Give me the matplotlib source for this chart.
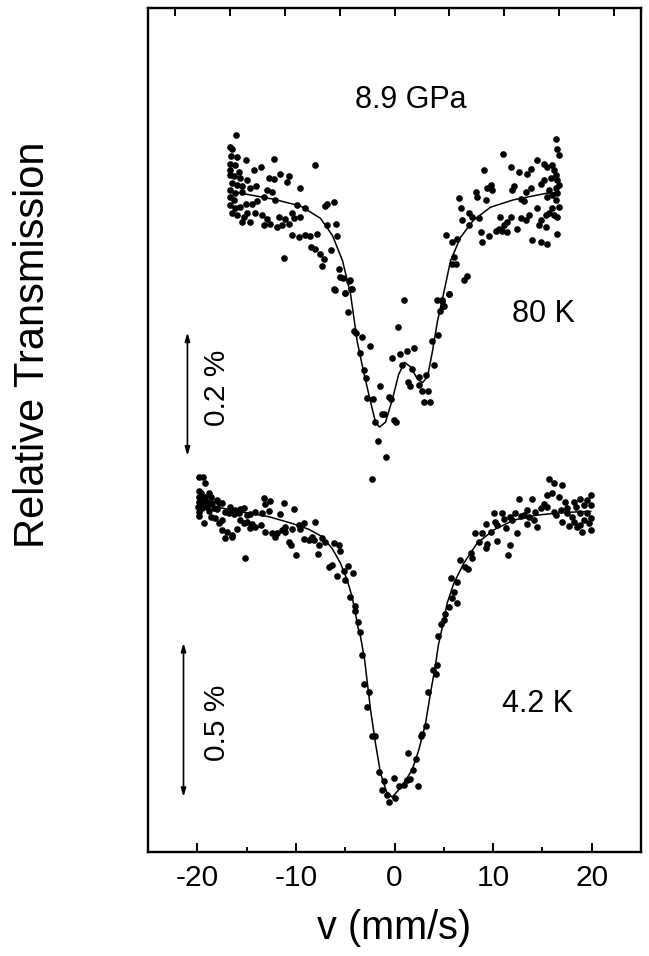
import numpy as np
import matplotlib
matplotlib.use("Agg")
import matplotlib.pyplot as plt

plt.rcParams['font.family'] = ['Liberation Sans', 'DejaVu Sans']
plt.rcParams['axes.unicode_minus'] = False

# velocity (mm/s) and transmission change (%)
# 80 K spectrum
pts80 = [
    (-16.03, 0.089), (-16.64, 0.069), (-16.47, 0.066), (-16.57, 0.055), (-15.96, 0.053),
    (-15.11, 0.049), (-12.24, 0.050), (-8.08, 0.041), (-16.64, 0.042), (-16.13, 0.041),
    (-16.64, 0.033), (-15.79, 0.030), (-14.27, 0.033), (-13.59, 0.037), (-16.70, 0.025),
    (-16.30, 0.022), (-15.62, 0.019), (-14.95, 0.016), (-12.75, 0.020), (-12.24, 0.018),
    (-11.57, 0.026), (-10.72, 0.022), (-10.89, 0.013), (-16.47, 0.011), (-15.96, 0.008),
    (-15.45, 0.006), (-14.61, 0.003), (-14.00, 0.006), (-12.92, 0.000), (-12.41, -0.003),
    (-9.54, 0.004), (-16.64, 0.000), (-16.13, -0.005), (-15.45, -0.003), (-16.70, -0.011),
    (-16.30, -0.016), (-15.11, -0.022), (-14.44, -0.022), (-13.93, -0.018), (-13.26, -0.011),
    (-12.07, -0.016), (-9.87, -0.025), (-9.03, -0.029), (-6.83, -0.022), (-6.16, -0.020),
    (-16.64, -0.025), (-16.13, -0.029), (-15.62, -0.027), (-16.47, -0.037), (-15.96, -0.040),
    (-15.28, -0.044), (-14.95, -0.038), (-14.10, -0.037), (-13.42, -0.041), (-12.92, -0.047),
    (-11.73, -0.044), (-11.06, -0.047), (-10.38, -0.038), (-10.21, -0.046), (-9.54, -0.044),
    (-15.45, -0.052), (-14.61, -0.052), (-13.26, -0.057), (-12.58, -0.055), (-11.90, -0.060),
    (-11.40, -0.057), (-10.72, -0.055), (-6.83, -0.057), (-5.89, -0.056), (-10.38, -0.073),
    (-9.71, -0.076), (-9.03, -0.073), (-8.52, -0.074), (-7.85, -0.071), (-8.45, -0.093),
    (-8.02, -0.096), (-7.51, -0.104), (-7.17, -0.112), (-6.49, -0.097), (-5.82, -0.075),
    (-7.34, -0.123), (-11.23, -0.111), (-6.09, -0.161), (-5.65, -0.128), (-5.48, -0.142),
    (-5.27, -0.143), (-4.56, -0.146), (-4.97, -0.167), (-4.26, -0.161), (-7.00, -0.026),
    (-6.08, -0.162), (-4.97, -0.168), (-4.46, -0.161), (-4.63, -0.148), (-4.73, -0.198),
    (-4.12, -0.229), (-3.95, -0.232), (-3.28, -0.238), (-2.50, -0.254), (-3.45, -0.264),
    (-3.11, -0.292), (-2.94, -0.306), (-2.77, -0.338), (-2.16, -0.339), (-1.93, -0.377),
    (-1.25, -0.363), (-1.08, -0.364), (-1.69, -0.407), (-0.91, -0.434), (-2.33, -0.470),
    (-1.49, -0.318), (-0.57, -0.336), (-0.40, -0.339), (-0.07, -0.374), (0.20, -0.377),
    (-0.24, -0.273), (0.54, -0.267), (1.22, -0.261), (1.96, -0.256), (0.34, -0.222),
    (0.95, -0.178), (0.78, -0.285), (1.79, -0.290), (1.35, -0.311), (1.62, -0.318),
    (2.47, -0.303), (3.15, -0.300), (2.47, -0.317), (2.81, -0.327), (3.38, -0.327),
    (2.98, -0.344), (3.58, -0.345), (3.99, -0.285), (3.82, -0.246), (4.40, -0.235),
    (4.60, -0.197), (4.33, -0.178), (5.00, -0.189), (5.51, -0.169), (4.84, -0.180),
    (16.43, 0.082), (16.50, 0.067), (16.67, 0.057), (11.03, 0.059), (9.07, 0.033),
    (11.77, 0.037), (12.61, 0.030), (13.46, 0.026), (13.87, 0.034), (14.47, 0.048),
    (15.15, 0.042), (15.49, 0.038), (16.00, 0.041), (16.16, 0.033), (16.33, 0.025),
    (16.50, 0.016), (15.83, 0.019), (15.15, 0.016), (14.81, 0.009), (16.67, 0.008),
    (16.33, 0.003), (15.66, 0.000), (16.50, -0.005), (16.00, -0.008), (15.49, -0.011),
    (16.33, -0.016), (16.67, -0.027), (16.00, -0.030), (15.66, -0.038), (16.16, -0.041),
    (16.50, -0.044), (15.32, -0.041), (14.81, -0.049), (14.47, -0.030), (14.64, -0.057),
    (15.32, -0.060), (16.50, -0.071), (13.97, -0.082), (14.81, -0.085), (15.49, -0.087),
    (13.63, -0.041), (12.78, -0.046), (11.77, -0.044), (11.43, -0.052), (10.75, -0.044),
    (11.09, -0.057), (10.59, -0.063), (10.25, -0.066), (10.92, -0.067), (11.43, -0.068),
    (12.45, -0.063), (13.29, -0.049), (13.12, -0.018), (12.78, -0.014), (12.11, 0.006),
    (11.94, 0.000), (13.80, 0.003), (13.29, -0.003), (9.74, 0.008), (9.40, 0.003),
    (9.91, 0.000), (8.22, -0.003), (8.39, -0.011), (9.23, -0.016), (6.53, -0.013),
    (6.70, -0.030), (7.54, -0.037), (7.88, -0.044), (6.87, -0.049), (7.54, -0.057),
    (8.56, -0.046), (8.73, -0.068), (9.57, -0.074), (8.90, -0.085), (5.18, -0.073),
    (6.36, -0.079), (5.85, -0.085), (6.02, -0.109), (5.85, -0.120), (6.19, -0.120),
    (7.37, -0.139), (7.04, -0.146), (5.52, -0.169), (4.84, -0.178), (4.94, -0.189),
]
fit80 = [
    (-16.33, -0.003), (-12.27, -0.015), (-9.53, -0.026), (-7.51, -0.046), (-6.29, -0.074),
    (-5.27, -0.115), (-4.46, -0.169), (-3.78, -0.246), (-3.14, -0.295), (-2.43, -0.344),
    (-1.93, -0.377), (-1.52, -0.385), (-0.91, -0.377), (-0.20, -0.339), (0.41, -0.300),
    (1.01, -0.280), (1.62, -0.287), (2.33, -0.307), (2.84, -0.313), (3.35, -0.303),
    (3.85, -0.262), (4.36, -0.213), (4.97, -0.169), (5.68, -0.115), (6.69, -0.077),
    (8.01, -0.049), (9.74, -0.028), (12.07, -0.016), (15.52, -0.005), (16.40, -0.004),
]

# 4.2 K spectrum
pts42 = [
    (-19.85, 0.090), (-19.44, 0.090), (-19.17, 0.070), (-19.85, 0.047), (-19.58, 0.038),
    (-18.83, 0.040), (-19.85, 0.027), (-19.51, 0.022), (-19.17, 0.027), (-18.66, 0.027),
    (-19.85, 0.011), (-19.34, 0.005), (-19.00, 0.011), (-18.50, 0.008), (-17.99, 0.016),
    (-17.82, 0.005), (-17.48, 0.005), (-19.92, -0.005), (-19.51, -0.011), (-19.00, -0.008),
    (-18.33, -0.011), (-17.99, -0.014), (-19.85, -0.022), (-18.83, -0.018), (-17.14, -0.022),
    (-16.64, -0.005), (-16.47, -0.022), (-16.13, -0.016), (-15.62, -0.014), (-15.28, -0.011),
    (-16.81, -0.027), (-16.30, -0.029), (-15.79, -0.027), (-14.95, -0.033), (-14.61, -0.029),
    (-19.85, -0.036), (-18.66, -0.038), (-18.16, -0.043), (-19.34, -0.060), (-17.82, -0.060),
    (-17.48, -0.049), (-15.62, -0.049), (-15.28, -0.060), (-14.95, -0.054), (-14.44, -0.062),
    (-14.10, -0.070), (-13.59, -0.065), (-14.61, -0.076), (-17.48, -0.081), (-16.97, -0.087),
    (-16.47, -0.097), (-15.96, -0.079), (-17.14, -0.108), (-16.47, -0.103), (-13.26, 0.022),
    (-12.58, 0.014), (-13.09, 0.003), (-11.23, 0.005), (-12.75, -0.018), (-14.10, -0.022),
    (-13.42, -0.027), (-11.57, -0.029), (-10.21, -0.014), (-13.09, -0.087), (-12.41, -0.090),
    (-11.90, -0.092), (-12.07, -0.103), (-11.40, -0.081), (-11.06, -0.087), (-10.38, -0.079),
    (-11.06, -0.070), (-9.71, -0.065), (-9.20, -0.060), (-8.02, -0.054), (-9.54, -0.079),
    (-9.20, -0.111), (-8.69, -0.113), (-8.18, -0.113), (-8.35, -0.103), (-7.34, -0.108),
    (-7.00, -0.119), (-6.16, -0.122), (-5.65, -0.130), (-5.48, -0.151), (-7.68, -0.130),
    (-10.72, -0.119), (-10.45, -0.130), (-9.94, -0.162), (-7.75, -0.159), (-15.18, -0.173),
    (-6.66, -0.200), (-6.33, -0.195), (-4.70, -0.197), (-5.82, -0.231), (-5.14, -0.216),
    (-4.23, -0.222), (-4.97, -0.244), (-4.47, -0.298), (-3.96, -0.328), (-3.69, -0.379),
    (-4.05, -0.345), (-3.52, -0.414), (-3.28, -0.487), (4.43, -0.427),
    (-3.11, -0.581), (-2.60, -0.606), (-2.77, -0.657), (-2.26, -0.750), (-1.93, -0.750),
    (-1.59, -0.866), (-1.08, -0.898), (-1.25, -0.927), (-0.74, -0.941), (-0.57, -0.963),
    (-0.07, -0.887), (0.10, -0.952), (0.44, -0.912), (0.95, -0.909), (1.29, -0.893),
    (1.56, -0.890), (1.89, -0.860), (2.13, -0.826), (2.40, -0.912), (1.35, -0.804),
    (2.64, -0.750), (2.81, -0.743), (3.15, -0.719), (3.38, -0.606), (3.92, -0.535),
    (4.16, -0.548), (4.33, -0.519),
    (15.65, 0.083), (16.16, 0.072), (17.00, 0.065), (12.61, 0.018), (13.96, 0.018),
    (15.48, 0.032), (15.99, 0.040), (16.67, 0.025), (17.34, 0.011), (18.19, 0.011),
    (18.86, 0.018), (19.88, 0.032), (19.54, 0.016), (19.20, 0.000), (19.88, 0.000),
    (18.36, -0.005), (17.51, -0.011), (16.84, -0.016), (16.16, -0.022), (15.48, -0.005),
    (14.81, -0.011), (15.15, 0.003), (14.30, -0.022), (13.45, -0.016), (13.12, -0.033),
    (12.27, -0.025), (11.76, -0.038), (10.92, -0.027), (10.07, -0.025), (10.24, -0.054),
    (11.09, -0.047), (11.93, -0.049), (12.78, -0.036), (13.62, -0.038), (14.13, -0.049),
    (9.33, -0.062), (10.41, -0.065), (11.26, -0.076), (12.44, -0.092), (13.45, -0.062),
    (14.47, -0.070), (17.51, -0.027), (18.02, -0.038), (18.86, -0.027), (19.54, -0.027),
    (19.88, -0.043), (19.20, -0.049), (19.71, -0.060), (18.86, -0.065), (18.53, -0.070),
    (19.88, -0.081), (19.03, -0.087), (17.68, -0.068), (17.00, -0.054), (16.33, -0.033),
    (18.19, -0.054), (8.21, -0.090), (8.89, -0.092), (9.74, -0.087), (8.55, -0.119),
    (9.40, -0.127), (10.41, -0.116), (9.23, -0.141), (11.70, -0.130), (11.49, -0.162),
    (7.71, -0.157), (6.69, -0.179), (7.20, -0.200), (7.44, -0.209), (7.88, -0.173),
    (5.68, -0.238), (6.36, -0.249), (6.02, -0.281), (5.85, -0.303), (6.29, -0.317),
    (5.51, -0.332), (5.17, -0.354), (5.00, -0.373), (4.73, -0.386),
]
fit42 = [
    (-19.68, 0.000), (-17.82, -0.008), (-15.11, -0.025), (-12.75, -0.038), (-10.38, -0.060),
    (-8.69, -0.079), (-7.34, -0.103), (-6.33, -0.141), (-5.48, -0.189), (-4.80, -0.244),
    (-4.30, -0.298), (-3.96, -0.352), (-3.69, -0.400), (-3.45, -0.427), (-3.03, -0.503),
    (-2.43, -0.665), (-1.93, -0.774), (-1.42, -0.871), (-0.81, -0.931), (-0.24, -0.949),
    (0.27, -0.931), (0.95, -0.903), (1.79, -0.860), (2.47, -0.795), (3.15, -0.709),
    (3.65, -0.611), (4.16, -0.519), (4.45, -0.455), (4.83, -0.400), (5.34, -0.319),
    (6.02, -0.254), (7.03, -0.189), (8.38, -0.124), (10.07, -0.081), (12.10, -0.049),
    (14.47, -0.033), (16.84, -0.025), (18.86, -0.022), (19.90, -0.021),
]

top_ticks = np.arange(-4, 5) * 5.553

off80 = 1.023   # vertical offset of the 80 K spectrum
k80 = 2.0       # 80 K spectrum drawn at twice the scale

p80 = np.array(pts80)
f80 = np.array(fit80)
p42 = np.array(pts42)
f42 = np.array(fit42)

fig = plt.figure(figsize=(6.49, 9.56), dpi=100)
ax = fig.add_axes([148 / 649, 104 / 956, 493 / 649, 844 / 956])

ax.plot(p80[:, 0], off80 + k80 * p80[:, 1], 'o', color='black', ms=4.8, mew=0)
ax.plot(f80[:, 0], off80 + k80 * f80[:, 1], '-', color='black', lw=1.1)
ax.plot(p42[:, 0], p42[:, 1], 'o', color='black', ms=4.8, mew=0)
ax.plot(f42[:, 0], f42[:, 1], '-', color='black', lw=1.1)

ax.set_xlim(-25, 25)
ax.set_ylim(-1.127, 1.614)

ax.set_xticks([-20, -10, 0, 10, 20])
ax.set_xticks([-15, -5, 5, 15], minor=True)
ax.tick_params(axis='x', which='major', direction='in', length=6.5, width=1.4,
               labelsize=21.5, pad=9, top=False)
ax.tick_params(axis='x', which='minor', direction='in', length=3.5, width=1.4, top=False)
ax.set_yticks([])
for s in ax.spines.values():
    s.set_linewidth(1.7)

ax2 = ax.twiny()
ax2.set_xlim(ax.get_xlim())
ax2.set_xticks(top_ticks)
ax2.set_xticklabels([])
ax2.tick_params(axis='x', direction='in', length=6, width=1.4)
for s in ax2.spines.values():
    s.set_visible(False)

ax.set_xlabel('v (mm/s)', fontsize=28.5, labelpad=12)
fig.text(33 / 649, 1 - 345 / 956, 'Relative Transmission', rotation=90,
         ha='center', va='center', fontsize=30)

# scale bars
ax.annotate('', xy=(-21.0, 0.56), xytext=(-21.0, 0.16),
            arrowprops=dict(arrowstyle='<|-|>,head_length=0.5,head_width=0.15',
                            color='black', lw=1.2, shrinkA=0, shrinkB=0))
ax.annotate('', xy=(-21.4, -0.448), xytext=(-21.4, -0.948),
            arrowprops=dict(arrowstyle='<|-|>,head_length=0.5,head_width=0.15',
                            color='black', lw=1.2, shrinkA=0, shrinkB=0))
ax.text(-18.0, 0.38, '0.2 %', rotation=90, ha='center', va='center', fontsize=21.5)
ax.text(-18.0, -0.708, '0.5 %', rotation=90, ha='center', va='center', fontsize=21.5)

ax.text(1.7, 1.315, '8.9 GPa', ha='center', va='center', fontsize=22)
ax.text(15.1, 0.62, '80 K', ha='center', va='center', fontsize=22)
ax.text(14.5, -0.646, '4.2 K', ha='center', va='center', fontsize=22)

fig.savefig('out.png', dpi=100)
